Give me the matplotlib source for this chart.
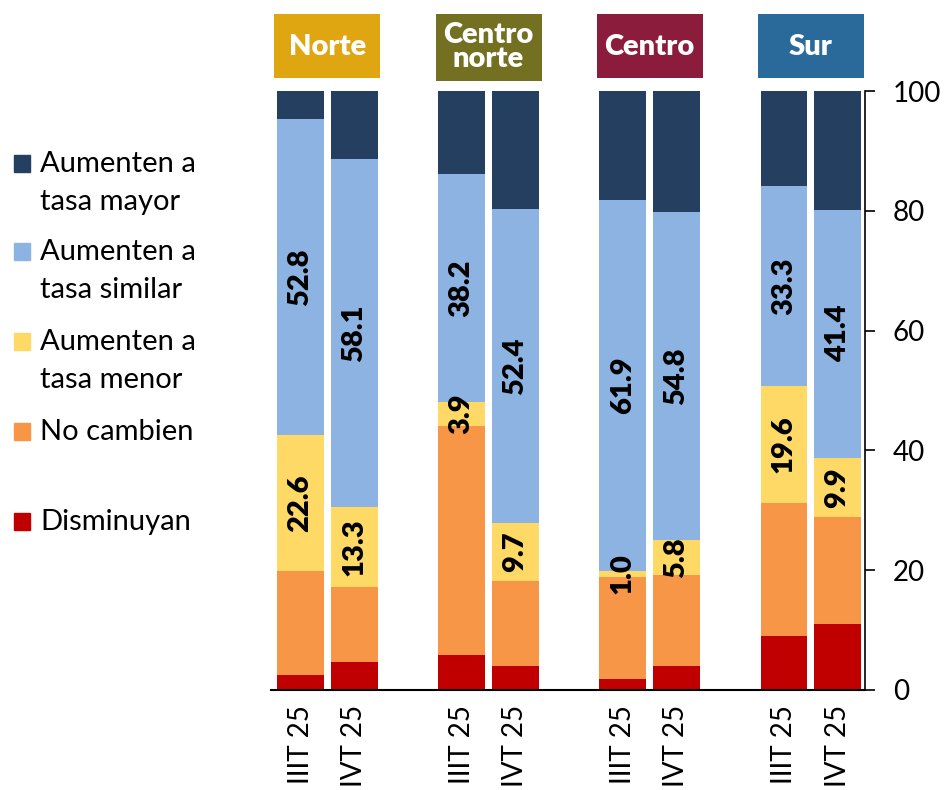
import numpy as np
import matplotlib.pyplot as plt
from matplotlib.patches import Rectangle
from matplotlib.transforms import blended_transform_factory

plt.rcParams['font.family'] = ['Lato', 'DejaVu Sans']

# datos
regiones = ['Norte', 'Centro\nnorte', 'Centro', 'Sur']
colores_region = ['#E0A612', '#737022', '#8C1C3C', '#2A6A9A']
periodos = ['IIIT 25', 'IVT 25']

series = ['Disminuyan', 'No cambien', 'Aumenten a\ntasa menor',
          'Aumenten a\ntasa similar', 'Aumenten a\ntasa mayor']
colores = ['#C00000', '#F79646', '#FFD966', '#8DB3E2', '#243F60']

disminuyan = [2.5, 4.7, 5.8, 4.0, 1.8, 4.0, 9.0, 11.0]
no_cambien = [17.4, 12.5, 38.3, 14.2, 17.1, 15.2, 22.2, 17.9]
tasa_menor = [22.6, 13.3, 3.9, 9.7, 1.0, 5.8, 19.6, 9.9]
tasa_similar = [52.8, 58.1, 38.2, 52.4, 61.9, 54.8, 33.3, 41.4]
tasa_mayor = [4.7, 11.4, 13.8, 19.7, 18.2, 20.2, 15.9, 19.8]

valores = [disminuyan, no_cambien, tasa_menor, tasa_similar, tasa_mayor]
x = np.array([0, 1, 3, 4, 6, 7, 9, 10])

fig = plt.figure(figsize=(9.47, 7.90), dpi=100)
ax = fig.add_axes([271 / 947, 1 - 690 / 790, (865 - 271) / 947, (690 - 91) / 790])

base = np.zeros(len(x))
for i, (vals, col) in enumerate(zip(valores, colores)):
    vals = np.array(vals)
    ax.bar(x, vals, bottom=base, width=0.87, color=col, linewidth=0)
    if i in (2, 3):  # etiquetas de menor y similar
        for xi, b, v in zip(x, base, vals):
            ax.text(xi, b + v / 2, f'{v:.1f}', rotation=90, ha='center', va='center',
                    fontsize=21, fontweight='heavy', color='black')
    base += vals

ax.set_xlim(-0.55, 10.51)
ax.set_ylim(0, 100)
ax.set_yticks(range(0, 101, 20))
ax.yaxis.tick_right()
ax.tick_params(axis='y', direction='out', length=7, width=1.2, pad=13, labelsize=20)
ax.set_xticks(x)
ax.set_xticklabels(periodos * 4, rotation=90, va='top', ha='center', fontsize=20)
ax.tick_params(axis='x', length=0, pad=11)
for s in ['top', 'left']:
    ax.spines[s].set_visible(False)
ax.spines['right'].set_linewidth(1.2)
ax.spines['bottom'].set_linewidth(1.5)

# encabezados de región
tr = blended_transform_factory(ax.transData, fig.transFigure)
for k, (nom, col) in enumerate(zip(regiones, colores_region)):
    cx = x[2 * k:2 * k + 2].mean()
    w = 106 / 53.7
    h = 67 / 790 if '\n' in nom else 64 / 790
    ax.add_patch(Rectangle((cx - w / 2, 1 - 14 / 790 - h), w, h, transform=tr,
                           facecolor=col, edgecolor='none', clip_on=False))
    ax.text(cx, 1 - 47 / 790, nom, transform=tr, ha='center', va='center',
            color='white', fontsize=21, fontweight='heavy', linespacing=0.95)

# leyenda
baselines = [172, 260, 350, 440, 530]
for nom, col, yb in zip(series[::-1], colores[::-1], baselines):
    fig.patches.append(Rectangle((14 / 947, 1 - yb / 790), 16 / 947, 17 / 790,
                                 transform=fig.transFigure, color=col, figure=fig))
    for j, linea in enumerate(nom.split('\n')):
        fig.text(40 / 947, 1 - (yb + 38 * j) / 790, linea, fontsize=21,
                 va='baseline', ha='left')

fig.savefig('out.png', dpi=100)
